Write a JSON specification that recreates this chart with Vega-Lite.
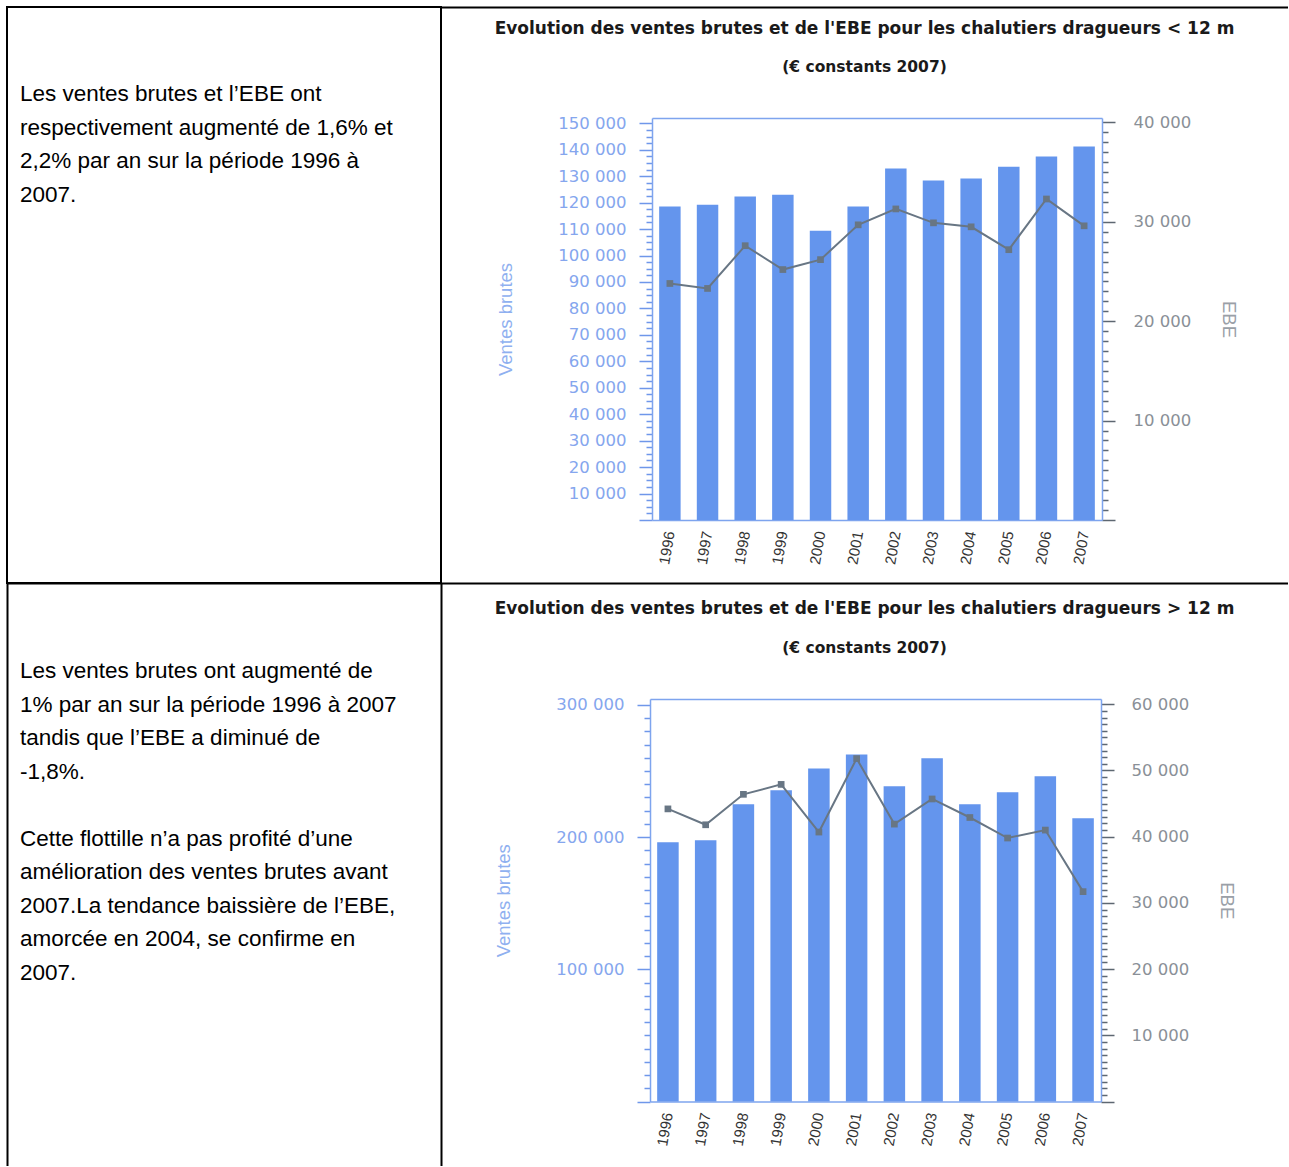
{
  "$schema": "https://vega.github.io/schema/vega-lite/v6.json",
  "padding": {"top": 6, "left": 6, "right": 0, "bottom": 0},
  "background": "white",
  "config": {"view": {"stroke": null}},
  "datasets": {
    "petits": [
      {"year": "1996", "ventes": 118500, "ebe": 23800},
      {"year": "1997", "ventes": 119200, "ebe": 23300},
      {"year": "1998", "ventes": 122300, "ebe": 27600},
      {"year": "1999", "ventes": 123000, "ebe": 25200},
      {"year": "2000", "ventes": 109400, "ebe": 26200},
      {"year": "2001", "ventes": 118500, "ebe": 29700},
      {"year": "2002", "ventes": 132900, "ebe": 31300},
      {"year": "2003", "ventes": 128400, "ebe": 29900},
      {"year": "2004", "ventes": 129100, "ebe": 29500},
      {"year": "2005", "ventes": 133600, "ebe": 27200},
      {"year": "2006", "ventes": 137400, "ebe": 32300},
      {"year": "2007", "ventes": 141200, "ebe": 29600}
    ],
    "grands": [
      {"year": "1996", "ventes": 196100, "ebe": 44200},
      {"year": "1997", "ventes": 197600, "ebe": 41800},
      {"year": "1998", "ventes": 224800, "ebe": 46400},
      {"year": "1999", "ventes": 235400, "ebe": 47900},
      {"year": "2000", "ventes": 252000, "ebe": 40700},
      {"year": "2001", "ventes": 262600, "ebe": 51800},
      {"year": "2002", "ventes": 238400, "ebe": 41900},
      {"year": "2003", "ventes": 259600, "ebe": 45700},
      {"year": "2004", "ventes": 224800, "ebe": 42900},
      {"year": "2005", "ventes": 233900, "ebe": 39800},
      {"year": "2006", "ventes": 246000, "ebe": 41000},
      {"year": "2007", "ventes": 214200, "ebe": 31700}
    ],
    "texte1": [
      {"line": 0, "text": "Les ventes brutes et l’EBE ont"},
      {"line": 1, "text": "respectivement augmenté de 1,6% et"},
      {"line": 2, "text": "2,2% par an sur la période 1996 à"},
      {"line": 3, "text": "2007."}
    ],
    "texte2": [
      {"line": 0, "text": "Les ventes brutes ont  augmenté de"},
      {"line": 1, "text": "1% par an sur la période 1996 à 2007"},
      {"line": 2, "text": "tandis que l’EBE a diminué de"},
      {"line": 3, "text": "-1,8%."},
      {"line": 5, "text": "Cette flottille n’a pas profité d’une"},
      {"line": 6, "text": "amélioration des ventes brutes avant"},
      {"line": 7, "text": "2007.La tendance baissière de l’EBE,"},
      {"line": 8, "text": "amorcée en 2004, se confirme en"},
      {"line": 9, "text": "2007."}
    ]
  },
  "columns": 2,
  "spacing": 0,
  "bounds": "flush",
  "concat": [
    {
      "width": 434,
      "height": 576,
      "view": {"stroke": "black", "strokeWidth": 2},
      "data": {"name": "texte1"},
      "mark": {"type": "text", "align": "left", "baseline": "alphabetic", "font": "Liberation Sans", "fontSize": 22.5, "color": "black"},
      "encoding": {
        "x": {"datum": 0, "type": "quantitative", "scale": {"domain": [0, 1], "range": [13, 421], "nice": false, "zero": false}, "axis": null},
        "y": {"field": "line", "type": "quantitative", "scale": {"domain": [0, 1], "range": [94, 127.5], "nice": false, "zero": false}, "axis": null},
        "text": {"field": "text"}
      }
    },
    {
      "width": 847,
      "height": 576,
      "title": {
        "text": "Evolution des ventes brutes et de l'EBE pour les chalutiers dragueurs < 12 m",
        "subtitle": "(€ constants 2007)",
        "frame": "group", "anchor": "middle", "orient": "top", "offset": -69,
        "font": "DejaVu Sans", "fontSize": 17, "fontWeight": "bold", "color": "#1a1a1a",
        "subtitleFont": "DejaVu Sans", "subtitleFontSize": 15.5, "subtitleFontWeight": "bold", "subtitleColor": "#1a1a1a",
        "subtitlePadding": 22
      },
      "data": {"name": "petits"},
      "layer": [
        {
          "mark": {"type": "bar", "color": "#6495ed"},
          "encoding": {
            "x": {"field": "year", "type": "ordinal", "scale": {"type": "band", "range": [211, 661], "paddingInner": 0.43, "paddingOuter": 0.19},
              "axis": {"orient": "bottom", "offset": -63, "ticks": false, "domainColor": "#7ea4ee", "domainWidth": 1.5, "labelColor": "#333333", "labelFont": "Liberation Sans", "labelFontSize": 15, "labelAngle": -80, "labelPadding": 11, "labelOverlap": false, "title": null}},
            "y": {"field": "ventes", "type": "quantitative", "scale": {"domain": [0, 152000], "range": [513, 111], "nice": false, "zero": true},
              "axis": {"orient": "left", "offset": -211, "grid": false,
                "values": [0,2500,5000,7500,10000,12500,15000,17500,20000,22500,25000,27500,30000,32500,35000,37500,40000,42500,45000,47500,50000,52500,55000,57500,60000,62500,65000,67500,70000,72500,75000,77500,80000,82500,85000,87500,90000,92500,95000,97500,100000,102500,105000,107500,110000,112500,115000,117500,120000,122500,125000,127500,130000,132500,135000,137500,140000,142500,145000,147500,150000],
                "labelExpr": "datum.value > 0 && datum.value % 10000 === 0 ? replace(format(datum.value, ','), ',', ' ') : ''",
                "tickSize": {"condition": {"test": "datum.value % 10000 === 0", "value": 13}, "value": 6},
                "tickColor": "#6f97ea", "tickWidth": 1.5, "domainColor": "#7ea4ee", "domainWidth": 1.5,
                "labelColor": "#85a6ee", "labelFont": "DejaVu Sans", "labelFontSize": 16.5, "labelPadding": 13, "labelOverlap": false, "labelBound": false,
                "title": "Ventes brutes", "titleColor": "#8fb0f0", "titleFont": "Liberation Sans", "titleFontSize": 18.5, "titleFontWeight": "normal", "titlePadding": 42}}
          }
        },
        {
          "mark": {"type": "line", "color": "#687684", "strokeWidth": 2, "point": {"shape": "square", "size": 45, "filled": true, "color": "#687684"}},
          "encoding": {
            "x": {"field": "year", "type": "ordinal", "scale": {"type": "band", "range": [211, 661], "paddingInner": 0.43, "paddingOuter": 0.19},
              "axis": {"orient": "top", "offset": -111, "ticks": false, "labels": false, "domainColor": "#7ea4ee", "domainWidth": 1.5, "title": null}},
            "y": {"field": "ebe", "type": "quantitative", "scale": {"domain": [0, 40450], "range": [513, 111], "nice": false, "zero": true},
              "axis": {"orient": "right", "offset": -186, "grid": false,
                "values": [0,1000,2000,3000,4000,5000,6000,7000,8000,9000,10000,11000,12000,13000,14000,15000,16000,17000,18000,19000,20000,21000,22000,23000,24000,25000,26000,27000,28000,29000,30000,31000,32000,33000,34000,35000,36000,37000,38000,39000,40000],
                "labelExpr": "datum.value > 0 && datum.value % 10000 === 0 ? replace(format(datum.value, ','), ',', ' ') : ''",
                "tickSize": {"condition": {"test": "datum.value % 10000 === 0", "value": 13}, "value": 6},
                "tickColor": "#5d6771", "tickWidth": 1.5, "domainColor": "#7ea4ee", "domainWidth": 1.5,
                "labelColor": "#8a9097", "labelFont": "DejaVu Sans", "labelFontSize": 16.5, "labelPadding": 18, "labelOverlap": false, "labelBound": false,
                "title": "EBE", "titleColor": "#9aa0a7", "titleFont": "Liberation Sans", "titleFontSize": 18.5, "titleFontWeight": "normal", "titlePadding": 28}}
          }
        },
        {
          "mark": {"type": "point", "opacity": 0},
          "encoding": {
            "x": {"datum": 0.5, "type": "quantitative", "scale": {"domain": [0, 1], "nice": false},
              "axis": {"orient": "top", "offset": 0, "ticks": false, "labels": false, "grid": false, "domainColor": "black", "domainWidth": 2, "title": null}}
          }
        }
      ],
      "resolve": {"scale": {"x": "independent", "y": "independent"}}
    },
    {
      "width": 434,
      "height": 583,
      "layer": [
        {
          "data": {"name": "texte2"},
          "mark": {"type": "text", "align": "left", "baseline": "alphabetic", "font": "Liberation Sans", "fontSize": 22.5, "color": "black"},
          "encoding": {
            "x": {"datum": 0, "type": "quantitative", "scale": {"domain": [0, 1], "range": [13, 421], "nice": false, "zero": false}, "axis": null},
            "y": {"field": "line", "type": "quantitative", "scale": {"domain": [0, 1], "range": [95, 128.5], "nice": false, "zero": false}, "axis": null},
            "text": {"field": "text"}
          }
        },
        {
          "data": {"values": [{"cadre": 1}]},
          "mark": {"type": "point", "opacity": 0},
          "encoding": {
            "x": {"datum": 0.5, "type": "quantitative", "scale": {"domain": [0, 1], "nice": false},
              "axis": {"orient": "top", "offset": 0, "ticks": false, "labels": false, "grid": false, "domainColor": "black", "domainWidth": 2, "title": null}},
            "y": {"datum": 0.5, "type": "quantitative", "scale": {"domain": [0, 1], "nice": false},
              "axis": {"orient": "left", "offset": 0, "ticks": false, "labels": false, "grid": false, "domainColor": "black", "domainWidth": 2, "title": null}}
          }
        },
        {
          "data": {"values": [{"cadre": 1}]},
          "mark": {"type": "point", "opacity": 0},
          "encoding": {
            "y": {"datum": 0.5, "type": "quantitative", "scale": {"domain": [0, 1], "nice": false},
              "axis": {"orient": "right", "offset": 0, "ticks": false, "labels": false, "grid": false, "domainColor": "black", "domainWidth": 2, "title": null}}
          }
        }
      ],
      "resolve": {"scale": {"x": "independent", "y": "independent"}}
    },
    {
      "width": 847,
      "height": 583,
      "title": {
        "text": "Evolution des ventes brutes et de l'EBE pour les chalutiers dragueurs > 12 m",
        "subtitle": "(€ constants 2007)",
        "frame": "group", "anchor": "middle", "orient": "top", "offset": -74,
        "font": "DejaVu Sans", "fontSize": 17, "fontWeight": "bold", "color": "#1a1a1a",
        "subtitleFont": "DejaVu Sans", "subtitleFontSize": 15.5, "subtitleFontWeight": "bold", "subtitleColor": "#1a1a1a",
        "subtitlePadding": 23
      },
      "data": {"name": "grands"},
      "layer": [
        {
          "mark": {"type": "bar", "color": "#6495ed"},
          "encoding": {
            "x": {"field": "year", "type": "ordinal", "scale": {"type": "band", "range": [209, 660], "paddingInner": 0.43, "paddingOuter": 0.19},
              "axis": {"orient": "bottom", "offset": -64.5, "ticks": false, "domainColor": "#7ea4ee", "domainWidth": 1.5, "labelColor": "#333333", "labelFont": "Liberation Sans", "labelFontSize": 15, "labelAngle": -80, "labelPadding": 11, "labelOverlap": false, "title": null}},
            "y": {"field": "ventes", "type": "quantitative", "scale": {"domain": [0, 304500], "range": [518.5, 116], "nice": false, "zero": true},
              "axis": {"orient": "left", "offset": -209, "grid": false,
                "values": [0,10000,20000,30000,40000,50000,60000,70000,80000,90000,100000,110000,120000,130000,140000,150000,160000,170000,180000,190000,200000,210000,220000,230000,240000,250000,260000,270000,280000,290000,300000],
                "labelExpr": "datum.value > 0 && datum.value % 100000 === 0 ? replace(format(datum.value, ','), ',', ' ') : ''",
                "tickSize": {"condition": {"test": "datum.value % 100000 === 0", "value": 13}, "value": 6},
                "tickColor": "#6f97ea", "tickWidth": 1.5, "domainColor": "#7ea4ee", "domainWidth": 1.5,
                "labelColor": "#85a6ee", "labelFont": "DejaVu Sans", "labelFontSize": 16.5, "labelPadding": 13, "labelOverlap": false, "labelBound": false,
                "title": "Ventes brutes", "titleColor": "#8fb0f0", "titleFont": "Liberation Sans", "titleFontSize": 18.5, "titleFontWeight": "normal", "titlePadding": 42}}
          }
        },
        {
          "mark": {"type": "line", "color": "#687684", "strokeWidth": 2, "point": {"shape": "square", "size": 45, "filled": true, "color": "#687684"}},
          "encoding": {
            "x": {"field": "year", "type": "ordinal", "scale": {"type": "band", "range": [209, 660], "paddingInner": 0.43, "paddingOuter": 0.19},
              "axis": {"orient": "top", "offset": -116, "ticks": false, "labels": false, "domainColor": "#7ea4ee", "domainWidth": 1.5, "title": null}},
            "y": {"field": "ebe", "type": "quantitative", "scale": {"domain": [0, 60800], "range": [518.5, 116], "nice": false, "zero": true},
              "axis": {"orient": "right", "offset": -187, "grid": false,
                "values": [0,1000,2000,3000,4000,5000,6000,7000,8000,9000,10000,11000,12000,13000,14000,15000,16000,17000,18000,19000,20000,21000,22000,23000,24000,25000,26000,27000,28000,29000,30000,31000,32000,33000,34000,35000,36000,37000,38000,39000,40000,41000,42000,43000,44000,45000,46000,47000,48000,49000,50000,51000,52000,53000,54000,55000,56000,57000,58000,59000,60000],
                "labelExpr": "datum.value > 0 && datum.value % 10000 === 0 ? replace(format(datum.value, ','), ',', ' ') : ''",
                "tickSize": {"condition": {"test": "datum.value % 10000 === 0", "value": 13}, "value": 6},
                "tickColor": "#5d6771", "tickWidth": 1.5, "domainColor": "#7ea4ee", "domainWidth": 1.5,
                "labelColor": "#8a9097", "labelFont": "DejaVu Sans", "labelFontSize": 16.5, "labelPadding": 17, "labelOverlap": false, "labelBound": false,
                "title": "EBE", "titleColor": "#9aa0a7", "titleFont": "Liberation Sans", "titleFontSize": 18.5, "titleFontWeight": "normal", "titlePadding": 28}}
          }
        },
        {
          "mark": {"type": "point", "opacity": 0},
          "encoding": {
            "x": {"datum": 0.5, "type": "quantitative", "scale": {"domain": [0, 1], "nice": false},
              "axis": {"orient": "top", "offset": 0, "ticks": false, "labels": false, "grid": false, "domainColor": "black", "domainWidth": 2, "title": null}}
          }
        }
      ],
      "resolve": {"scale": {"x": "independent", "y": "independent"}}
    }
  ]
}
